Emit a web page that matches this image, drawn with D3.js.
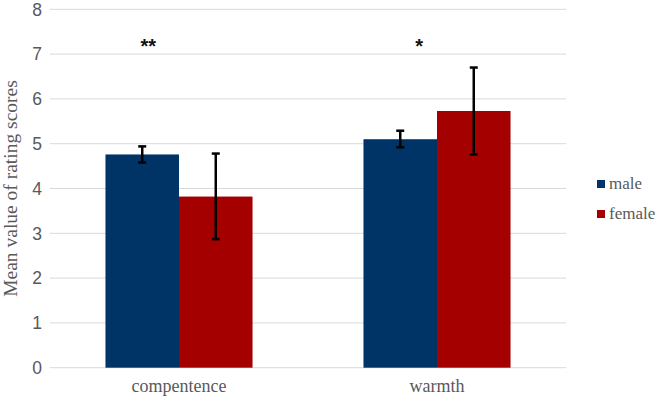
<!DOCTYPE html>
<html><head><meta charset="utf-8">
<script src="https://cdn.jsdelivr.net/npm/d3@7"></script>
<style>
body{margin:0;background:#fff}
.serif{font-family:"Liberation Serif","Times New Roman","DejaVu Serif",serif}
.sans{font-family:"Liberation Sans",Arial,sans-serif}
</style>
</head><body>
<svg id="c" width="660" height="400"></svg>
<script>
const categories = ["compentence", "warmth"];
const seriesNames = ["male", "female"];
const maleValues = [4.76, 5.10];
const femaleValues = [3.82, 5.73];
const maleErrLow = [4.58, 4.92];
const maleErrHigh = [4.94, 5.29];
const femaleErrLow = [2.87, 4.76];
const femaleErrHigh = [4.78, 6.70];
const significance = ["**", "*"];
const yTicks = [0, 1, 2, 3, 4, 5, 6, 7, 8];
const colors = ["#003366", "#A50000"];

const svg = d3.select("#c");
const plotLeft = 50, plotRight = 566, plotTop = 9.3, plotBottom = 367.7;
const x = d3.scaleBand().domain(categories).range([plotLeft, plotRight]).paddingInner(0.43).paddingOuter(0.215);
const xs = d3.scaleBand().domain(seriesNames).range([0, x.bandwidth()]);
const y = d3.scaleLinear().domain([0, 8]).range([plotBottom, plotTop]);

// gridlines
svg.append("g").selectAll("line").data(yTicks).join("line")
  .attr("x1", plotLeft).attr("x2", plotRight)
  .attr("y1", d => y(d)).attr("y2", d => y(d))
  .attr("stroke", "#d9d9d9").attr("stroke-width", 1);

// y tick labels
svg.append("g").selectAll("text").data(yTicks).join("text")
  .attr("class", "sans")
  .attr("x", 42).attr("y", d => y(d)).attr("dy", "0.36em")
  .attr("text-anchor", "end")
  .attr("font-size", 17.5).attr("fill", "#595959").text(d => d);

// y title
svg.append("text").attr("class", "serif")
  .attr("transform", `translate(17,${(plotTop + plotBottom) / 2}) rotate(-90)`)
  .attr("text-anchor", "middle")
  .attr("font-size", 19.5).attr("fill", "#595959").text("Mean value of rating scores");

const data = categories.map((c, i) => ({
  cat: c,
  vals: [
    {s: "male", v: maleValues[i], lo: maleErrLow[i], hi: maleErrHigh[i], col: colors[0]},
    {s: "female", v: femaleValues[i], lo: femaleErrLow[i], hi: femaleErrHigh[i], col: colors[1]}
  ]
}));

const g = svg.append("g").selectAll("g").data(data).join("g")
  .attr("transform", d => `translate(${x(d.cat)},0)`);

g.selectAll("rect").data(d => d.vals).join("rect")
  .attr("x", d => xs(d.s)).attr("width", xs.bandwidth())
  .attr("y", d => y(d.v)).attr("height", d => y(0) - y(d.v))
  .attr("fill", d => d.col);

const eb = g.selectAll("g.eb").data(d => d.vals).join("g").attr("class", "eb");
eb.append("line")
  .attr("x1", d => xs(d.s) + xs.bandwidth() / 2).attr("x2", d => xs(d.s) + xs.bandwidth() / 2)
  .attr("y1", d => y(d.lo)).attr("y2", d => y(d.hi))
  .attr("stroke", "#000").attr("stroke-width", 2.5);
eb.selectAll("line.cap").data(d => [{s: d.s, v: d.lo}, {s: d.s, v: d.hi}]).join("line").attr("class", "cap")
  .attr("x1", d => xs(d.s) + xs.bandwidth() / 2 - 4).attr("x2", d => xs(d.s) + xs.bandwidth() / 2 + 4)
  .attr("y1", d => y(d.v)).attr("y2", d => y(d.v))
  .attr("stroke", "#000").attr("stroke-width", 2.5);

// category labels
svg.append("g").selectAll("text").data(categories).join("text")
  .attr("class", "serif")
  .attr("x", d => x(d) + x.bandwidth() / 2).attr("y", 392)
  .attr("text-anchor", "middle")
  .attr("font-size", 18).attr("fill", "#595959").text(d => d);

// significance
svg.append("g").selectAll("text").data(categories).join("text")
  .attr("class", "sans")
  .attr("x", (d, i) => i === 0 ? x(d) + 6 + xs.bandwidth() / 2 : x(d) + xs.bandwidth() / 2 + 19)
  .attr("y", 53)
  .attr("text-anchor", "middle")
  .attr("font-size", 20).attr("font-weight", "bold").attr("fill", "#111").text((d, i) => significance[i]);

// legend
const lg = svg.append("g").selectAll("g").data(seriesNames).join("g")
  .attr("transform", (d, i) => `translate(597,${180 + i * 30})`);
lg.append("rect").attr("width", 8).attr("height", 8).attr("fill", (d, i) => colors[i]);
lg.append("text").attr("class", "serif").attr("x", 12).attr("y", 8.5)
  .attr("font-size", 17).attr("fill", "#595959").text(d => d);
</script>
</body></html>
